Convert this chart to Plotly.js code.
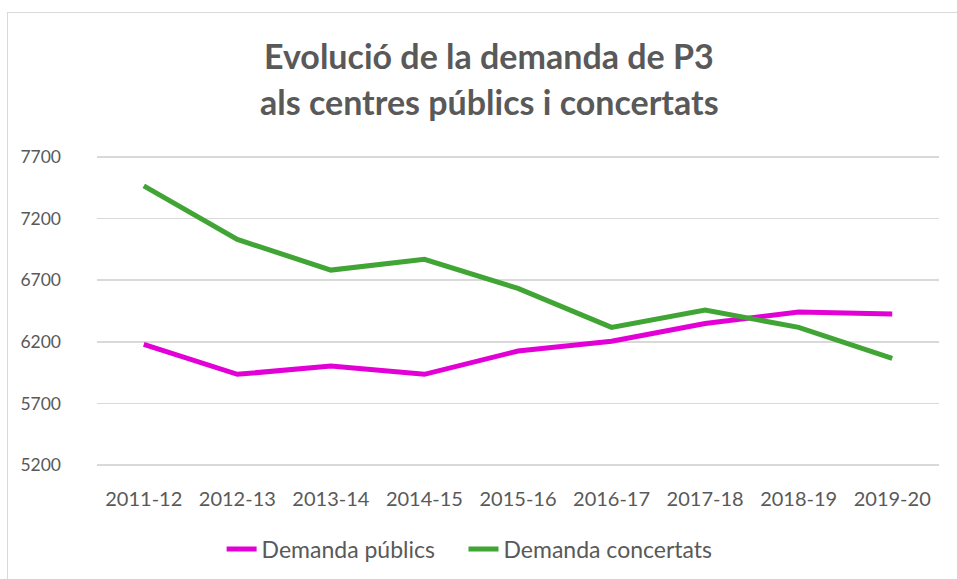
<!DOCTYPE html>
<html>
<head>
<meta charset="utf-8">
<script src="https://cdn.plot.ly/plotly-3.0.1.min.js"></script>
<style>
html,body{margin:0;padding:0;background:#fff;}
#wrap{position:relative;width:957px;height:579px;overflow:hidden;}
#frame{position:absolute;left:7px;top:12px;width:970px;height:600px;border:1px solid #d9d9d9;box-sizing:border-box;pointer-events:none;}
#chart{position:absolute;left:0;top:0;width:957px;height:579px;}
</style>
</head>
<body>
<div id="wrap">
<div id="chart"></div>
<div id="frame"></div>
</div>
<script>
const categories = ["2011-12","2012-13","2013-14","2014-15","2015-16","2016-17","2017-18","2018-19","2019-20"];
const publics = [6179, 5936, 6003, 5936, 6125, 6205, 6349, 6441, 6425];
const concertats = [7465, 7031, 6782, 6869, 6633, 6317, 6457, 6317, 6065];
const yTicks = [5200, 5700, 6200, 6700, 7200, 7700];
const titleLines = ['Evolució de la demanda de P3', 'als centres públics i concertats'];
const seriesNames = ['Demanda públics', 'Demanda concertats'];

const txt = '#595959';
const fam = 'Lato, "Open Sans", sans-serif';
const pad = '\u00a0\u00a0\u00a0\u00a0';
const traces = [
  {x: categories, y: publics, type: 'scatter', mode: 'lines', name: seriesNames[0] + pad,
   line: {color: '#e300d6', width: 5}},
  {x: categories, y: concertats, type: 'scatter', mode: 'lines', name: seriesNames[1],
   line: {color: '#40a535', width: 5}}
];
const layout = {
  width: 957, height: 579,
  margin: {l: 97, r: 18, t: 155, b: 112},
  paper_bgcolor: 'rgba(0,0,0,0)', plot_bgcolor: '#fff',
  font: {family: fam, color: txt, size: 20},
  annotations: titleLines.map((t, i) => ({
    text: '<b>' + t + '</b>', xref: 'paper', yref: 'paper', x: 0.4656, xanchor: 'center',
    y: 1 + (155 - (55 + 47 * i)) / 312, yanchor: 'middle', showarrow: false,
    font: {family: fam, size: 34, color: txt}
  })),
  xaxis: {type: 'category', range: [-0.5, 8.5], showgrid: false, zeroline: false, showline: false,
          ticks: '', ticklabelstandoff: 18, tickfont: {family: fam, size: 20, color: txt}, fixedrange: true},
  yaxis: {range: [5184, 7716], tickvals: yTicks, ticktext: yTicks.map(String),
          showgrid: true, gridcolor: '#d9d9d9', gridwidth: 1.5, zeroline: false,
          showline: false, ticks: '', ticklabelstandoff: 35,
          tickfont: {family: fam, size: 17.5, color: txt}, fixedrange: true},
  legend: {orientation: 'h', xref: 'paper', x: 0.148, xanchor: 'left',
           yref: 'container', y: 1 - 549 / 579, yanchor: 'middle',
           font: {family: fam, size: 23, color: txt}, traceorder: 'normal'},
  showlegend: true
};
Plotly.newPlot('chart', traces, layout, {displayModeBar: false, staticPlot: true});
</script>
</body>
</html>
